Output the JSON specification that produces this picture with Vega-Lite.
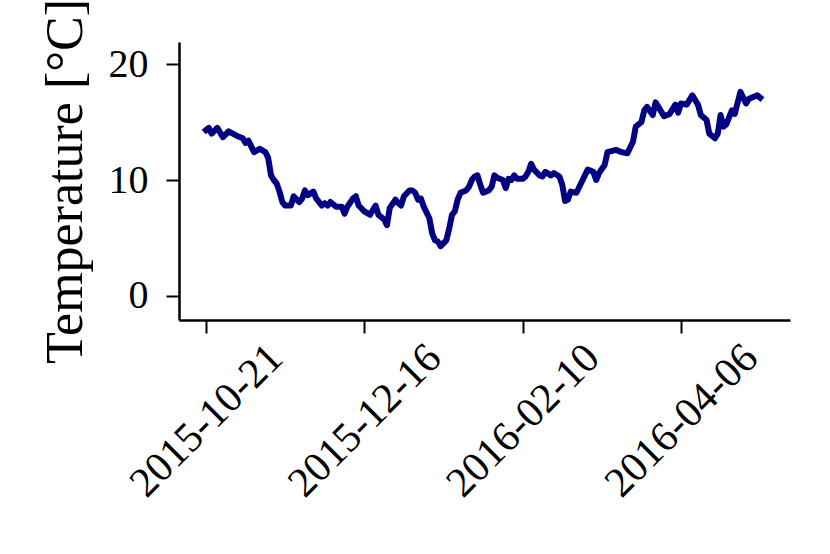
{
  "$schema": "https://vega.github.io/schema/vega-lite/v6.json",
  "width": 611,
  "height": 278,
  "autosize": {"type": "none"},
  "padding": {"left": 179, "top": 42, "right": 40, "bottom": 234},
  "background": "white",
  "config": {"view": {"stroke": null}},
  "data": {"values": [
    {"date": "2015-10-21", "temp": 14.3},
    {"date": "2015-10-22", "temp": 14.5},
    {"date": "2015-10-23", "temp": 14.0},
    {"date": "2015-10-25", "temp": 14.5},
    {"date": "2015-10-27", "temp": 13.7},
    {"date": "2015-10-29", "temp": 14.2},
    {"date": "2015-11-01", "temp": 13.8},
    {"date": "2015-11-03", "temp": 13.6},
    {"date": "2015-11-04", "temp": 13.2},
    {"date": "2015-11-05", "temp": 13.4},
    {"date": "2015-11-06", "temp": 12.9},
    {"date": "2015-11-07", "temp": 12.4},
    {"date": "2015-11-09", "temp": 12.7},
    {"date": "2015-11-11", "temp": 12.4},
    {"date": "2015-11-12", "temp": 11.9},
    {"date": "2015-11-13", "temp": 10.4},
    {"date": "2015-11-14", "temp": 10.0},
    {"date": "2015-11-15", "temp": 9.7},
    {"date": "2015-11-16", "temp": 9.0},
    {"date": "2015-11-17", "temp": 8.1},
    {"date": "2015-11-18", "temp": 7.8},
    {"date": "2015-11-20", "temp": 7.8},
    {"date": "2015-11-21", "temp": 8.6},
    {"date": "2015-11-23", "temp": 8.1},
    {"date": "2015-11-24", "temp": 8.4},
    {"date": "2015-11-25", "temp": 9.1},
    {"date": "2015-11-26", "temp": 8.7},
    {"date": "2015-11-28", "temp": 9.0},
    {"date": "2015-11-29", "temp": 8.4},
    {"date": "2015-12-01", "temp": 7.8},
    {"date": "2015-12-02", "temp": 8.0},
    {"date": "2015-12-03", "temp": 7.8},
    {"date": "2015-12-04", "temp": 8.1},
    {"date": "2015-12-06", "temp": 7.7},
    {"date": "2015-12-08", "temp": 7.7},
    {"date": "2015-12-09", "temp": 7.1},
    {"date": "2015-12-10", "temp": 7.7},
    {"date": "2015-12-12", "temp": 8.4},
    {"date": "2015-12-13", "temp": 8.6},
    {"date": "2015-12-14", "temp": 7.8},
    {"date": "2015-12-16", "temp": 7.3},
    {"date": "2015-12-18", "temp": 7.0},
    {"date": "2015-12-20", "temp": 7.8},
    {"date": "2015-12-21", "temp": 7.0},
    {"date": "2015-12-23", "temp": 6.6},
    {"date": "2015-12-24", "temp": 6.1},
    {"date": "2015-12-25", "temp": 7.6},
    {"date": "2015-12-27", "temp": 8.3},
    {"date": "2015-12-28", "temp": 8.0},
    {"date": "2015-12-29", "temp": 7.8},
    {"date": "2015-12-30", "temp": 8.6},
    {"date": "2016-01-01", "temp": 9.1},
    {"date": "2016-01-02", "temp": 9.1},
    {"date": "2016-01-03", "temp": 8.9},
    {"date": "2016-01-04", "temp": 8.3},
    {"date": "2016-01-05", "temp": 8.4},
    {"date": "2016-01-06", "temp": 7.7},
    {"date": "2016-01-08", "temp": 6.7},
    {"date": "2016-01-09", "temp": 5.4},
    {"date": "2016-01-10", "temp": 4.8},
    {"date": "2016-01-11", "temp": 4.7},
    {"date": "2016-01-12", "temp": 4.3},
    {"date": "2016-01-14", "temp": 4.8},
    {"date": "2016-01-15", "temp": 5.8},
    {"date": "2016-01-16", "temp": 7.0},
    {"date": "2016-01-17", "temp": 7.3},
    {"date": "2016-01-18", "temp": 8.3},
    {"date": "2016-01-19", "temp": 8.9},
    {"date": "2016-01-21", "temp": 9.1},
    {"date": "2016-01-22", "temp": 9.4},
    {"date": "2016-01-23", "temp": 10.0},
    {"date": "2016-01-24", "temp": 10.3},
    {"date": "2016-01-25", "temp": 10.4},
    {"date": "2016-01-26", "temp": 9.6},
    {"date": "2016-01-27", "temp": 8.9},
    {"date": "2016-01-29", "temp": 9.1},
    {"date": "2016-01-30", "temp": 9.4},
    {"date": "2016-01-31", "temp": 10.4},
    {"date": "2016-02-01", "temp": 10.2},
    {"date": "2016-02-03", "temp": 10.0},
    {"date": "2016-02-04", "temp": 9.3},
    {"date": "2016-02-05", "temp": 10.1},
    {"date": "2016-02-06", "temp": 10.0},
    {"date": "2016-02-07", "temp": 10.4},
    {"date": "2016-02-08", "temp": 10.1},
    {"date": "2016-02-10", "temp": 10.1},
    {"date": "2016-02-11", "temp": 10.3},
    {"date": "2016-02-12", "temp": 10.7},
    {"date": "2016-02-13", "temp": 11.4},
    {"date": "2016-02-14", "temp": 10.9},
    {"date": "2016-02-16", "temp": 10.4},
    {"date": "2016-02-17", "temp": 10.3},
    {"date": "2016-02-18", "temp": 10.7},
    {"date": "2016-02-20", "temp": 10.4},
    {"date": "2016-02-21", "temp": 10.6},
    {"date": "2016-02-23", "temp": 10.3},
    {"date": "2016-02-24", "temp": 9.6},
    {"date": "2016-02-25", "temp": 8.2},
    {"date": "2016-02-26", "temp": 8.3},
    {"date": "2016-02-27", "temp": 9.0},
    {"date": "2016-02-29", "temp": 8.9},
    {"date": "2016-03-01", "temp": 9.4},
    {"date": "2016-03-03", "temp": 10.4},
    {"date": "2016-03-04", "temp": 10.9},
    {"date": "2016-03-06", "temp": 10.7},
    {"date": "2016-03-07", "temp": 10.0},
    {"date": "2016-03-08", "temp": 10.6},
    {"date": "2016-03-10", "temp": 11.3},
    {"date": "2016-03-11", "temp": 12.4},
    {"date": "2016-03-14", "temp": 12.6},
    {"date": "2016-03-16", "temp": 12.4},
    {"date": "2016-03-18", "temp": 12.3},
    {"date": "2016-03-20", "temp": 13.3},
    {"date": "2016-03-21", "temp": 14.6},
    {"date": "2016-03-23", "temp": 15.0},
    {"date": "2016-03-24", "temp": 16.0},
    {"date": "2016-03-25", "temp": 16.3},
    {"date": "2016-03-27", "temp": 15.6},
    {"date": "2016-03-28", "temp": 16.7},
    {"date": "2016-03-30", "temp": 15.9},
    {"date": "2016-03-31", "temp": 15.5},
    {"date": "2016-04-02", "temp": 15.7},
    {"date": "2016-04-04", "temp": 16.5},
    {"date": "2016-04-05", "temp": 15.8},
    {"date": "2016-04-06", "temp": 16.6},
    {"date": "2016-04-08", "temp": 16.5},
    {"date": "2016-04-10", "temp": 17.3},
    {"date": "2016-04-12", "temp": 16.5},
    {"date": "2016-04-13", "temp": 15.6},
    {"date": "2016-04-15", "temp": 15.2},
    {"date": "2016-04-16", "temp": 14.0},
    {"date": "2016-04-18", "temp": 13.6},
    {"date": "2016-04-19", "temp": 14.0},
    {"date": "2016-04-20", "temp": 15.6},
    {"date": "2016-04-21", "temp": 14.6},
    {"date": "2016-04-22", "temp": 14.8},
    {"date": "2016-04-24", "temp": 16.0},
    {"date": "2016-04-25", "temp": 15.7},
    {"date": "2016-04-27", "temp": 17.6},
    {"date": "2016-04-29", "temp": 16.6},
    {"date": "2016-04-30", "temp": 17.0},
    {"date": "2016-05-03", "temp": 17.3},
    {"date": "2016-05-04", "temp": 17.1}
  ]},
  "mark": {"type": "line", "color": "#000080", "strokeWidth": 6, "strokeJoin": "round", "strokeCap": "square", "clip": true},
  "encoding": {
    "x": {
      "field": "date",
      "type": "temporal",
      "scale": {
        "type": "utc",
        "domain": [
          {"year": 2015, "month": 10, "date": 11, "hours": 11, "utc": true},
          {"year": 2016, "month": 5, "date": 14, "hours": 13, "utc": true}
        ]
      },
      "axis": {
        "title": null,
        "grid": false,
        "values": [
          {"year": 2015, "month": 10, "date": 21, "utc": true},
          {"year": 2015, "month": 12, "date": 16, "utc": true},
          {"year": 2016, "month": 2, "date": 10, "utc": true},
          {"year": 2016, "month": 4, "date": 6, "utc": true}
        ],
        "labelExpr": "utcFormat(datum.value, '%Y-%m-%d')",
        "labelAngle": -45,
        "labelAlign": "center",
        "labelBaseline": "middle",
        "labelPadding": 87,
        "labelLimit": 0,
        "labelFont": "Liberation Serif",
        "labelFontSize": 42,
        "labelColor": "black",
        "labelOverlap": false,
        "labelBound": false,
        "labelFlush": false,
        "domainColor": "black",
        "domainWidth": 2.5,
        "tickColor": "black",
        "tickWidth": 2,
        "tickSize": 13
      }
    },
    "y": {
      "field": "temp",
      "type": "quantitative",
      "scale": {"domain": [-2.07, 21.9], "nice": false, "zero": false},
      "axis": {
        "title": "Temperature [°C]",
        "titleFont": "Liberation Serif",
        "titleFontSize": 52,
        "titleFontWeight": "normal",
        "titleColor": "black",
        "titlePadding": 16,
        "titleLimit": 0,
        "grid": false,
        "values": [0, 10, 20],
        "labelFont": "Liberation Serif",
        "labelFontSize": 40,
        "labelColor": "black",
        "labelPadding": 18,
        "labelBound": false,
        "labelFlush": false,
        "labelOverlap": false,
        "domainColor": "black",
        "domainWidth": 2.5,
        "tickColor": "black",
        "tickWidth": 2,
        "tickSize": 13
      }
    }
  }
}
